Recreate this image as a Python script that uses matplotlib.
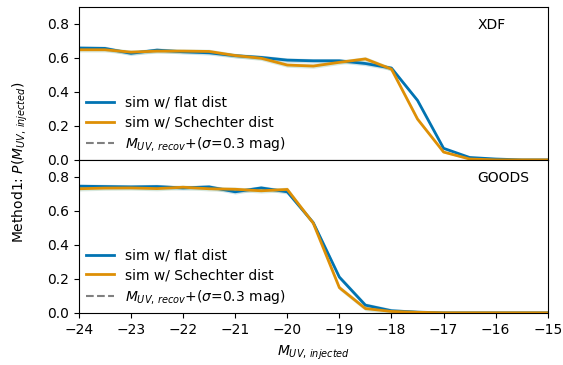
import numpy as np
from matplotlib import pyplot as plt

mag = [-24, -23.5, -23, -22.5, -22, -21.5, -21, -20.5, -20, -19.5,
       -19, -18.5, -18, -17.5, -17, -16.5, -16, -15.5, -15]

xdf_flat = [0.658, 0.656, 0.627, 0.646, 0.636, 0.630, 0.613, 0.603, 0.587, 0.583,
            0.583, 0.567, 0.540, 0.350, 0.068, 0.014, 0.005, 0.0, 0.0]
xdf_sch = [0.648, 0.648, 0.634, 0.640, 0.640, 0.638, 0.614, 0.598, 0.558, 0.552,
           0.574, 0.594, 0.534, 0.240, 0.046, 0.005, 0.0, 0.0, 0.0]
goods_flat = [0.745, 0.743, 0.741, 0.743, 0.735, 0.741, 0.712, 0.735, 0.712, 0.530,
              0.210, 0.045, 0.012, 0.004, 0.0, 0.0, 0.0, 0.0, 0.0]
goods_sch = [0.730, 0.734, 0.735, 0.731, 0.739, 0.730, 0.727, 0.718, 0.726, 0.527,
             0.148, 0.025, 0.008, 0.003, 0.0, 0.0, 0.0, 0.0, 0.0]
# rough error band half-widths
err = [0.013, 0.013, 0.013, 0.013, 0.013, 0.013, 0.013, 0.013, 0.013, 0.013,
       0.013, 0.013, 0.013, 0.01, 0.006, 0.003, 0.001, 0.0, 0.0]

fields = ['XDF', 'GOODS']
blue = '#0173b2'
orange = '#de8f05'

fig, axes = plt.subplots(2, 1, figsize=(5.63, 3.65), dpi=100, sharex=True)
fig.subplots_adjust(left=0.140, right=0.973, top=0.981, bottom=0.143, hspace=0)

x = np.array(mag)
e = np.array(err)
for ax, name, flat, sch in zip(axes, fields, [xdf_flat, goods_flat], [xdf_sch, goods_sch]):
    flat = np.array(flat)
    sch = np.array(sch)
    ax.fill_between(x, flat - e, flat + e, color='#5fa0b0', alpha=0.3, lw=0)
    ax.fill_between(x, sch - e, sch + e, color='#8fbf9f', alpha=0.35, lw=0)
    ax.plot(x, flat, color=blue, lw=2, label='sim w/ flat dist')
    ax.plot(x, sch, color=orange, lw=2, label='sim w/ Schechter dist')
    ax.plot([], [], color='gray', ls='--', lw=1.5,
            label=r'$M_{UV,\,recov}$+($\sigma$=0.3 mag)')
    ax.set_ylim(0, 0.9)
    ax.set_yticks([0.0, 0.2, 0.4, 0.6, 0.8])
    ax.set_xlim(-24, -15)
    ax.text(0.85, 0.88, name, transform=ax.transAxes, ha='left', va='center', fontsize=10)
    ax.legend(loc='lower left', frameon=False, fontsize=10, borderaxespad=0.1,
              labelspacing=0.4)

axes[0].tick_params(axis='x', bottom=False)
axes[1].set_xticks(np.arange(-24, -14, 1))
axes[1].set_xlabel(r'$M_{UV,\,injected}$', labelpad=5)
fig.text(0.036, 0.556, r'Method1: $P(M_{UV,\,injected})$', rotation=90,
         ha='center', va='center', fontsize=10)

plt.savefig('out.png', dpi=100)
